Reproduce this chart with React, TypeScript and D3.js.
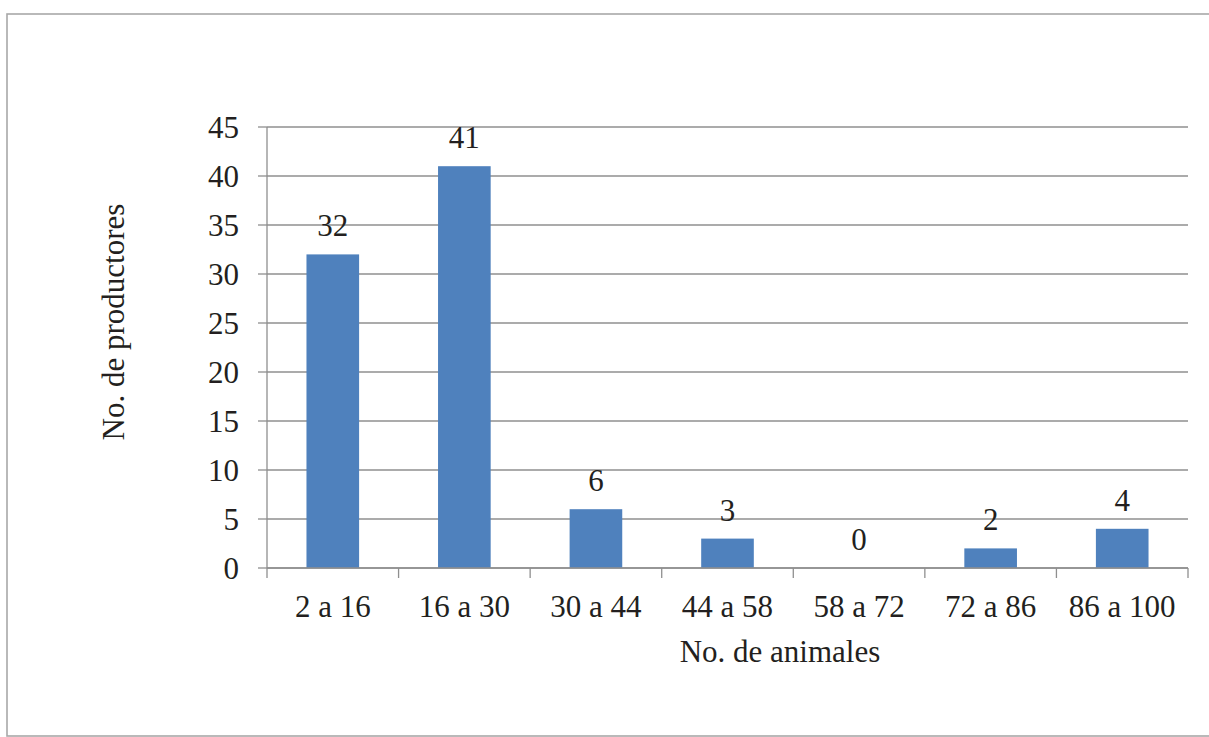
import React from "react";
import * as d3 from "d3";

const categories = ["2 a 16", "16 a 30", "30 a 44", "44 a 58", "58 a 72", "72 a 86", "86 a 100"];
const productores = [32, 41, 6, 3, 0, 2, 4];
const yTicks = [0, 5, 10, 15, 20, 25, 30, 35, 40, 45];
const xTitle = "No. de animales";
const yTitle = "No. de productores";

const W = 1209;
const H = 737;
const plot = { left: 267, right: 1188, top: 127, bottom: 568 };
const FONT = "Liberation Serif, Tinos, Times New Roman, DejaVu Serif, serif";
const FS = 31;
const BAR_BLUE = "#4f81bd";
const GRID = "#8f8f8f";
const TEXT = "#231f20";

export default function App() {
  const x = d3
    .scaleBand<string>()
    .domain(categories)
    .range([plot.left, plot.right])
    .paddingInner(0)
    .paddingOuter(0);
  const y = d3.scaleLinear().domain([0, 45]).range([plot.bottom, plot.top]);
  const barW = x.bandwidth() * 0.4;
  const boundaries = d3.range(categories.length + 1).map((i) => plot.left + i * x.step());

  return (
    <svg
      width={W}
      height={H}
      viewBox={`0 0 ${W} ${H}`}
      style={{ position: "absolute", left: 0, top: 0, background: "#fff", fontFamily: FONT }}
    >
      {/* chart frame */}
      <rect x={7} y={14} width={W + 10} height={722} fill="none" stroke="#a8a8a8" strokeWidth={1.6} />

      {/* horizontal gridlines and y ticks */}
      {yTicks.map((t) => (
        <g key={t}>
          <line x1={plot.left} x2={plot.right} y1={y(t)} y2={y(t)} stroke={GRID} strokeWidth={1.3} />
          <line x1={plot.left - 9} x2={plot.left} y1={y(t)} y2={y(t)} stroke={GRID} strokeWidth={1.3} />
          <text x={239} y={y(t)} dy="0.35em" textAnchor="end" fontSize={FS} fill={TEXT}>
            {t}
          </text>
        </g>
      ))}

      {/* bars */}
      {categories.map((c, i) => (
        <rect
          key={c}
          x={(x(c) as number) + (x.bandwidth() - barW) / 2}
          y={y(productores[i])}
          width={barW}
          height={y(0) - y(productores[i])}
          fill={BAR_BLUE}
        />
      ))}

      {/* axes */}
      <line x1={plot.left} x2={plot.left} y1={plot.top} y2={plot.bottom} stroke={GRID} strokeWidth={1.3} />
      <line x1={plot.left} x2={plot.right} y1={plot.bottom} y2={plot.bottom} stroke={GRID} strokeWidth={1.3} />
      {boundaries.map((bx, i) => (
        <line key={i} x1={bx} x2={bx} y1={plot.bottom} y2={plot.bottom + 10} stroke={GRID} strokeWidth={1.3} />
      ))}

      {/* value labels */}
      {categories.map((c, i) => (
        <text
          key={c}
          x={(x(c) as number) + x.bandwidth() / 2}
          y={y(productores[i]) - 18}
          textAnchor="middle"
          fontSize={FS}
          fill={TEXT}
        >
          {productores[i]}
        </text>
      ))}

      {/* category labels */}
      {categories.map((c) => (
        <text
          key={c}
          x={(x(c) as number) + x.bandwidth() / 2}
          y={617}
          textAnchor="middle"
          fontSize={FS}
          fill={TEXT}
        >
          {c}
        </text>
      ))}

      {/* axis titles */}
      <text x={780} y={662} textAnchor="middle" fontSize={FS} fill={TEXT}>
        {xTitle}
      </text>
      <text
        transform={`translate(124, 322) rotate(-90)`}
        textAnchor="middle"
        fontSize={FS}
        fill={TEXT}
      >
        {yTitle}
      </text>
    </svg>
  );
}
